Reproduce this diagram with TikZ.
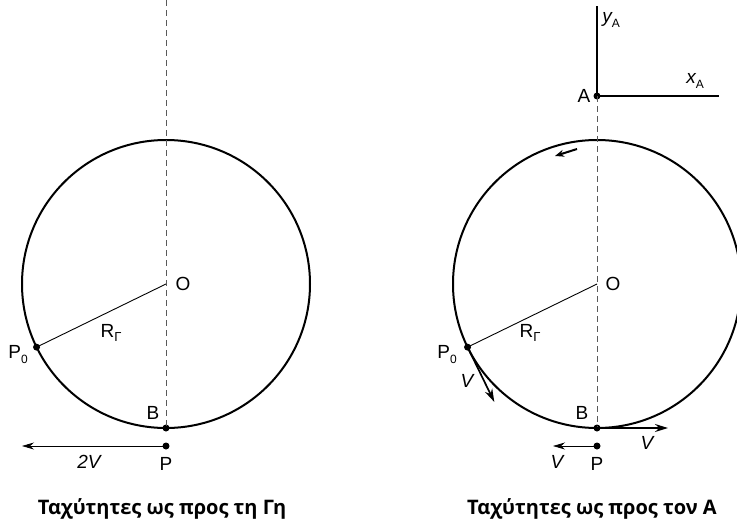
\documentclass[tikz,border=0pt]{standalone}
\usepackage{fontspec}
\setmainfont{Liberation Sans}
\newfontfamily\capfont{Open Sans}
\usetikzlibrary{arrows.meta,calc}
\begin{document}
\begin{tikzpicture}[x=1pt,y=-1pt,
  lbl/.style={font=\fontsize{19}{19}\selectfont, inner sep=0pt},
  caption/.style={font=\capfont\bfseries\fontsize{20}{20}\selectfont, inner sep=0pt},
  dot/.style={circle, fill, inner sep=0pt, minimum size=7pt},
  wheel/.style={line width=2pt},
  axisline/.style={dash pattern=on 6pt off 4pt, line width=0.9pt, black!65},
  radius line/.style={line width=0.9pt},
  frame line/.style={line width=1.2pt},
  thin arrow/.style={-{Stealth[length=12pt,width=7pt]}, line width=0.8pt},
  vel/.style={-{Stealth[length=13pt,width=8pt]}, line width=1.7pt},
]
\useasboundingbox (0,0) rectangle (737,525);
\clip (0,0) rectangle (737,525);

% ---------- left: velocities w.r.t. ground ----------
\coordinate (O1) at (166,284);
\coordinate (T1) at (166,0);
\draw[wheel] (O1) circle[radius=144pt];
\node[dot] (B1) at (166,428) {};
\node[dot] (P1) at (166,446) {};
\node[dot] (Q1) at ($(O1)+(206:144pt)$) {};
\draw[axisline] (T1) -- (B1.center);
\draw[radius line] (O1) -- (Q1.center);
\coordinate (E1) at (22,446);
\draw[thin arrow] (P1.center) -- (E1);

\node[lbl] (lO1) at (183,284) {O};
\node[lbl] (lR1) at (111,333) {R\raisebox{-0.4ex}{\fontsize{13}{13}\selectfont Γ}};
\node[lbl] (lB1) at (153,413) {B};
\node[lbl] (lP1) at (166,464) {P};
\node[lbl] (lQ1) at (18,355) {P\raisebox{-0.5ex}{\fontsize{12}{12}\selectfont 0}};
\node[lbl] (lV1) at (89,462) {\itshape 2V};

\node[caption] (c1) at (162,509) {Ταχύτητες ως προς τη Γη};

% ---------- right: velocities w.r.t. A ----------
\coordinate (O2) at (597,284);
\draw[wheel] (O2) circle[radius=144pt];
\node[dot] (A) at (597,96) {};
\node[dot] (B2) at (597,428) {};
\node[dot] (P2) at (597,446) {};
\node[dot] (Q2) at ($(O2)+(206:144pt)$) {};
\coordinate (Ytop) at (597,6);
\coordinate (Xend) at (719,96);
\draw[frame line] (Ytop) -- (A.center) -- (Xend);
\draw[axisline] (A.center) -- (B2.center);
\draw[radius line] (O2) -- (Q2.center);

\coordinate (E2) at (553,446);
\draw[thin arrow] (P2.center) -- (E2);
\coordinate (EB) at (668,428);
\draw[vel] (B2.center) -- (EB);
\coordinate (EQ) at ($(Q2)+(-64:61pt)$);
\draw[vel] (Q2.center) -- (EQ);
\coordinate (R0) at (577,149);
\coordinate (R1) at (555,156);
\draw[-{Stealth[length=9pt,width=7pt]}, line width=2pt] (R0) -- (R1);

\node[lbl] (lO2) at (613,284) {O};
\node[lbl] (lR2) at (530,333) {R\raisebox{-0.4ex}{\fontsize{13}{13}\selectfont Γ}};
\node[lbl] (lB2) at (582,413) {B};
\node[lbl] (lP2) at (597,464) {P};
\node[lbl] (lQ2) at (447,355) {P\raisebox{-0.5ex}{\fontsize{12}{12}\selectfont 0}};
\node[lbl] (lV2) at (557,462) {\itshape V};
\node[lbl] (lVB) at (647,443) {\itshape V};
\node[lbl] (lVQ) at (467,381) {\itshape V};
\node[lbl] (lA) at (584,96) {A};
\node[lbl] (lY) at (611,20) {\itshape y\raisebox{-0.5ex}{\upshape\fontsize{12}{12}\selectfont A}};
\node[lbl] (lX) at (695,81) {\itshape x\raisebox{-0.5ex}{\upshape\fontsize{12}{12}\selectfont A}};

\node[caption] (c2) at (592,509) {Ταχύτητες ως προς τον A};
\end{tikzpicture}
\end{document}
